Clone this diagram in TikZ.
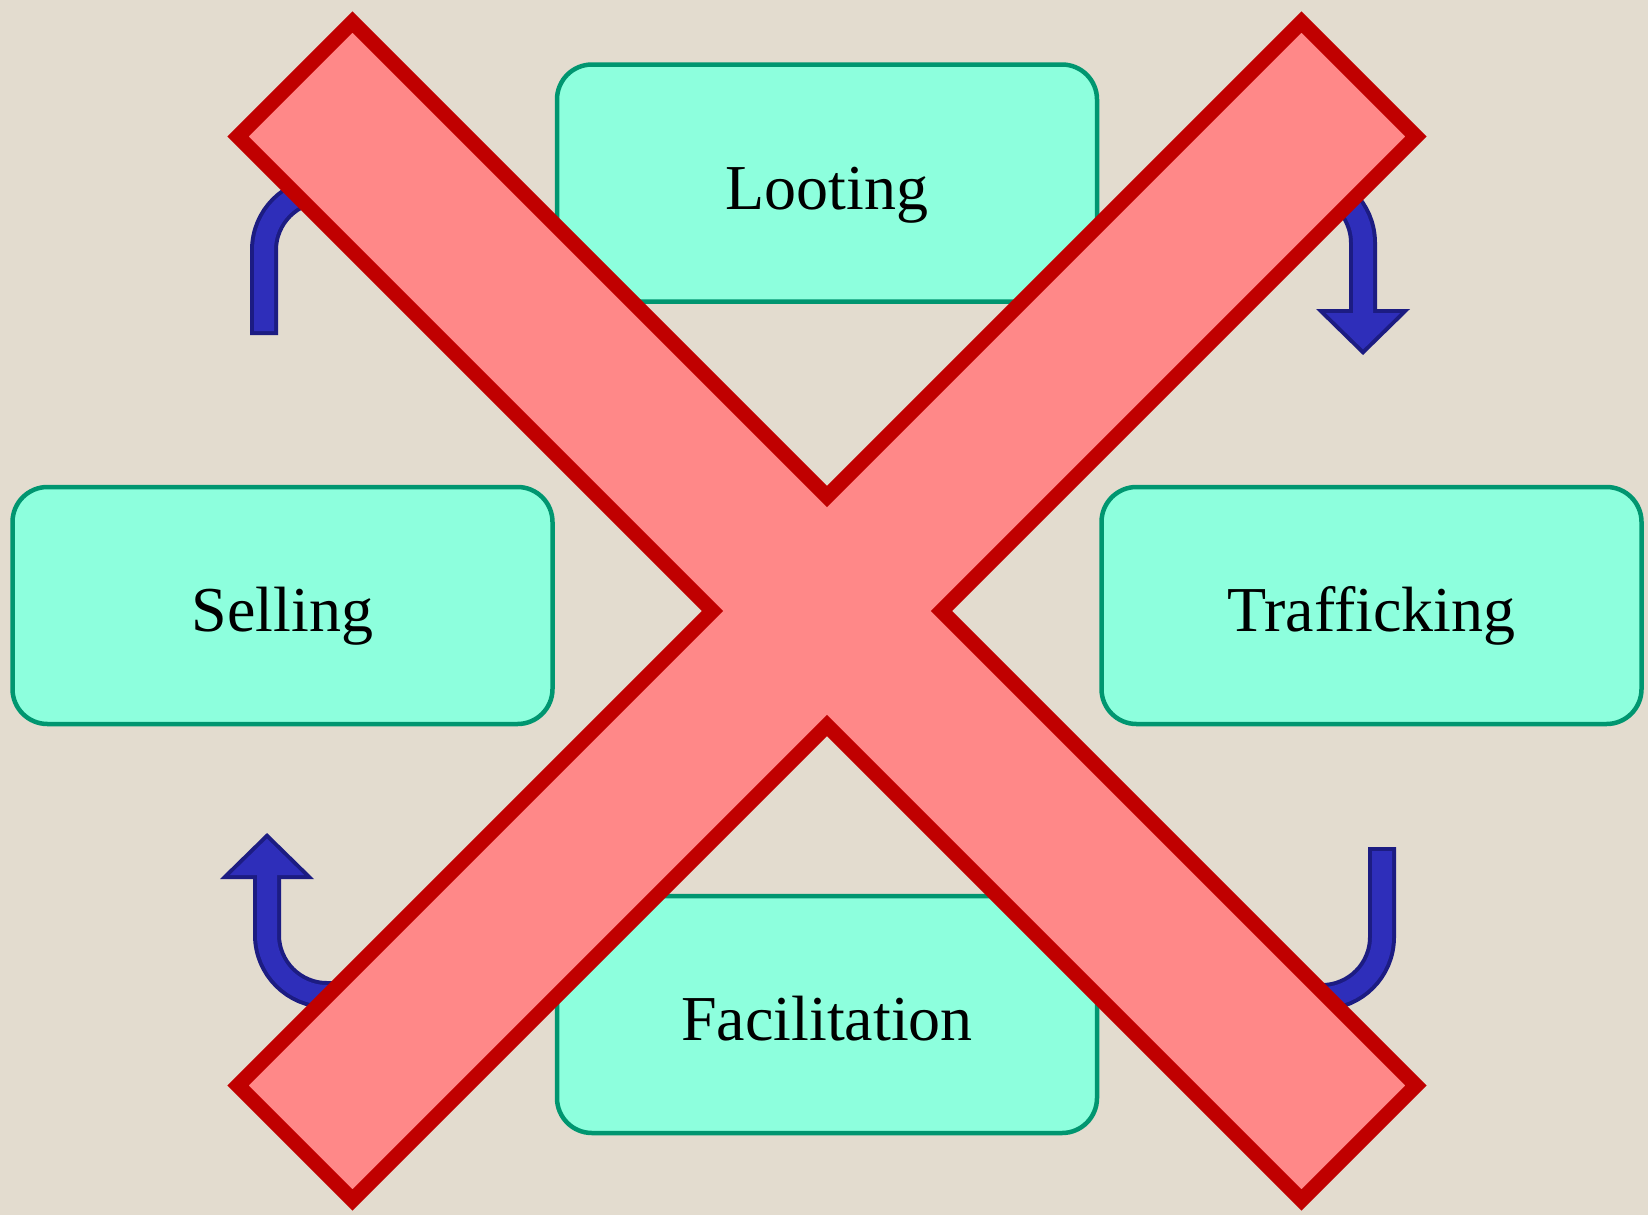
\documentclass[tikz,border=0pt]{standalone}
\usepackage{fontspec}
\setmainfont{Liberation Serif}
\usetikzlibrary{arrows.meta, positioning}

\definecolor{paper}{HTML}{E3DCCF}
\definecolor{stagefill}{HTML}{8DFFDD}
\definecolor{stageedge}{HTML}{009670}
\definecolor{flowblue}{HTML}{2E2EBA}
\definecolor{flowdark}{HTML}{1C1C82}
\definecolor{banfill}{HTML}{FF8888}
\definecolor{banedge}{HTML}{C00000}

\begin{document}
\begin{tikzpicture}[
    x=0.5pt, y=-0.5pt,
    stage/.style={rectangle, rounded corners=17.5pt, draw=stageedge, fill=stagefill, line width=2.25pt, minimum width=270pt, minimum height=118.5pt, text height=26pt, text depth=0pt, align=center, font=\fontsize{32pt}{38pt}\selectfont},
    flowedge/.style={draw=flowdark, line width=14pt, rounded corners=30pt, -{Triangle[length=23pt, width=47pt, line width=0pt]}},
    flowfill/.style={draw=flowblue, line width=10pt, rounded corners=30pt, shorten <=2pt, shorten >=2.8pt, -{Triangle[length=18.2pt, width=37.2pt, line width=0pt]}},
    ban/.style={draw=banedge, fill=banfill, line width=7.5pt, miter limit=10}
]

% Background
\fill[paper] (0,0) rectangle (1648,1215);
\useasboundingbox (0,0) rectangle (1648,1215);

% Four stages
\node[stage] (loot) at (827,183) {Looting};
\node[stage, below left=90.5pt and 0pt of loot] (sell) {Selling};
\node[stage, below right=90.5pt and 0pt of loot] (traf) {Trafficking};
\node[stage, below=295pt of loot] (faci) {Facilitation};

% Arrow ends
\coordinate (sl-tail) at (264,335);
\coordinate (sl-tip) at (450,190);
\coordinate (lt-tail) at (1200,183);
\coordinate (lt-tip) at (1363,355);
\coordinate (tf-tail) at (1382,847);
\coordinate (tf-tip) at (1200,997);
\coordinate (fs-tail) at (450,995);
\coordinate (fs-tip) at (267,833);

% Arrows (outline first, then body)
\foreach \s in {flowedge, flowfill} {
  \draw[\s] (sl-tail) |- (sl-tip);
  \draw[\s] (lt-tail) -| (lt-tip);
  \draw[\s] (tf-tail) |- (tf-tip);
  \draw[\s] (fs-tail) -| (fs-tip);
}

% Cross
\begin{scope}[shift={(827,611)}, rotate=45]
  \draw[ban] (-81,-752) -- (81,-752) -- (81,-81) -- (752,-81) -- (752,81) -- (81,81)
    -- (81,752) -- (-81,752) -- (-81,81) -- (-752,81) -- (-752,-81) -- (-81,-81) -- cycle;
\end{scope}

\end{tikzpicture}
\end{document}
